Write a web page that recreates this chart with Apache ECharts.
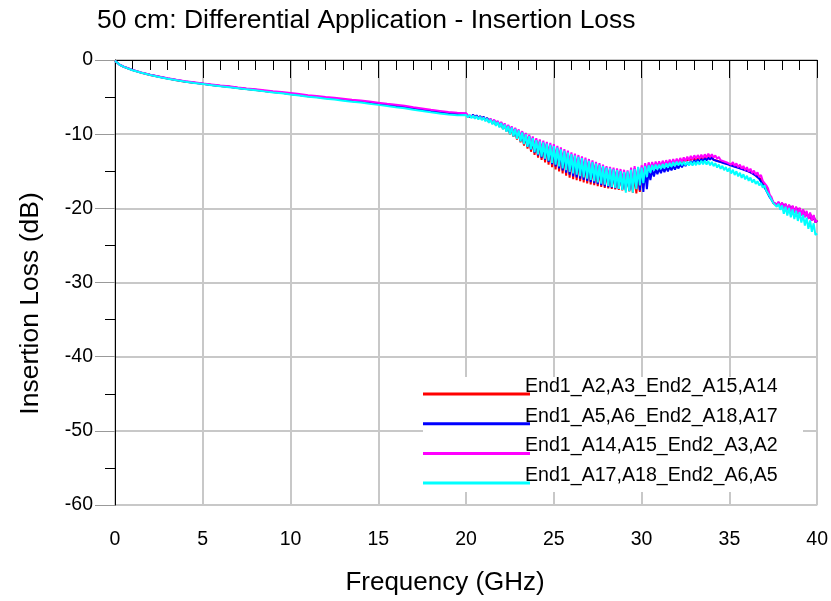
<!DOCTYPE html>
<html>
<head>
<meta charset="utf-8">
<script src="https://cdn.jsdelivr.net/npm/echarts@6/dist/echarts.min.js"></script>
<style>html,body{margin:0;padding:0;background:#fff}#c{width:831px;height:601px}</style>
</head>
<body>
<div id="c"></div>
<script>
const titleText = '50 cm: Differential Application - Insertion Loss';
const xName = 'Frequency (GHz)';
const yName = 'Insertion Loss (dB)';
const seriesNames = ['End1_A2,A3_End2_A15,A14','End1_A5,A6_End2_A18,A17','End1_A14,A15_End2_A3,A2','End1_A17,A18_End2_A6,A5'];
const seriesColors = ['#ff0000','#0000ff','#ff00ff','#00ffff'];

// frequency grid (GHz): coarse part 0..20, then 0.1 GHz sweep 20.1..40.0
const freqLow = [0,0.25,0.5,1,1.5,2,2.5,3,3.5,4,4.5,5,5.5,6,6.5,7,7.5,8,8.5,9,9.5,10,10.5,11,11.5,12,12.5,13,13.5,14,14.5,15,15.5,16,16.5,17,17.5,18,18.5,19,19.5,20];
const freqHigh = Array.from({length:200},(_,i)=>(201+i)/10);

const redLow = [-0.1,-0.62,-0.92,-1.36,-1.71,-2.01,-2.26,-2.51,-2.72,-2.92,-3.07,-3.22,-3.37,-3.52,-3.62,-3.77,-3.92,-4.03,-4.18,-4.33,-4.43,-4.58,-4.73,-4.88,-4.98,-5.13,-5.23,-5.38,-5.53,-5.63,-5.78,-5.93,-6.08,-6.23,-6.38,-6.58,-6.75,-6.93,-7.08,-7.22,-7.32,-7.3];
const redHigh = [
-7.6,-7.34,-7.7,-7.43,-7.8,-7.52,-7.9,-7.61,-8.0,-7.7,
-8.16,-7.86,-8.37,-8.02,-8.58,-8.18,-8.79,-8.34,-9.0,-8.5,
-9.28,-8.72,-9.64,-8.94,-10.0,-9.16,-10.36,-9.38,-10.72,-9.6,
-11.11,-9.86,-11.53,-10.12,-11.95,-10.38,-12.37,-10.64,-12.79,-10.9,
-13.16,-11.08,-13.48,-11.26,-13.8,-11.44,-14.12,-11.62,-14.44,-11.8,
-14.74,-12.02,-15.02,-12.24,-15.3,-12.46,-15.58,-12.68,-15.86,-12.9,
-16.07,-13.08,-16.21,-13.26,-16.35,-13.44,-16.49,-13.62,-16.63,-13.8,
-16.76,-13.96,-16.88,-14.12,-17.0,-14.28,-17.12,-14.44,-17.24,-14.6,
-17.33,-14.72,-17.39,-14.84,-17.45,-14.96,-17.51,-15.08,-17.57,-15.2,
-17.6,-15.4,-17.7,-15.5,-17.9,-15.6,-18.0,-15.5,-17.8,-15.0,
-16.0,-14.6,-15.3,-14.4,-14.9,-14.25,-14.7,-14.1,-14.55,-14.0,
-14.43,-13.95,-14.36,-13.9,-14.29,-13.85,-14.22,-13.8,-14.15,-13.75,
-14.05,-13.67,-13.95,-13.59,-13.85,-13.51,-13.75,-13.43,-13.65,-13.35,
-13.6,-13.3,-13.55,-13.25,-13.5,-13.2,-13.45,-13.1,-13.4,-13.1,
-13.46,-13.23,-13.59,-13.36,-13.72,-13.49,-13.85,-13.62,-13.98,-13.75,
-14.13,-13.92,-14.3,-14.09,-14.47,-14.26,-14.64,-14.43,-14.81,-14.6,
-15.0,-14.8,-15.2,-15.0,-15.5,-15.3,-15.85,-15.7,-16.4,-16.4,
-17.2,-17.6,-18.4,-18.7,-19.3,-19.1,-19.6,-19.25,-19.85,-19.3,
-20.06,-19.44,-20.22,-19.58,-20.38,-19.72,-20.54,-19.86,-20.7,-20.0,
-20.86,-20.26,-21.12,-20.52,-21.38,-20.78,-21.64,-21.04,-21.9,-21.6];

const blueLow = [-0.1,-0.61,-0.91,-1.35,-1.7,-2.0,-2.25,-2.5,-2.71,-2.91,-3.06,-3.21,-3.36,-3.51,-3.61,-3.76,-3.91,-4.02,-4.17,-4.32,-4.42,-4.57,-4.72,-4.87,-4.97,-5.12,-5.22,-5.37,-5.52,-5.62,-5.77,-5.92,-6.07,-6.22,-6.37,-6.57,-6.74,-6.92,-7.07,-7.2,-7.28,-7.25];
const blueHigh = [
-7.55,-7.29,-7.65,-7.38,-7.75,-7.47,-7.85,-7.56,-7.95,-7.65,
-8.1,-7.81,-8.3,-7.97,-8.5,-8.13,-8.7,-8.29,-8.9,-8.45,
-9.17,-8.66,-9.51,-8.87,-9.85,-9.08,-10.19,-9.29,-10.53,-9.5,
-10.9,-9.76,-11.3,-10.02,-11.7,-10.28,-12.1,-10.54,-12.5,-10.8,
-12.85,-10.98,-13.15,-11.16,-13.45,-11.34,-13.75,-11.52,-14.05,-11.7,
-14.34,-11.92,-14.62,-12.14,-14.9,-12.36,-15.18,-12.58,-15.46,-12.8,
-15.68,-12.98,-15.84,-13.16,-16.0,-13.34,-16.16,-13.52,-16.32,-13.7,
-16.47,-13.86,-16.61,-14.02,-16.75,-14.18,-16.89,-14.34,-17.03,-14.5,
-17.14,-14.62,-17.22,-14.74,-17.3,-14.86,-17.38,-14.98,-17.46,-15.1,
-17.5,-15.2,-17.6,-15.0,-17.5,-14.6,-17.2,-14.5,-17.6,-14.8,
-17.8,-14.9,-17.4,-14.9,-16.2,-14.8,-15.7,-14.7,-15.4,-14.6,
-15.25,-14.52,-15.13,-14.44,-15.01,-14.36,-14.89,-14.28,-14.77,-14.2,
-14.62,-14.06,-14.46,-13.92,-14.3,-13.78,-14.14,-13.64,-13.98,-13.5,
-13.85,-13.42,-13.75,-13.34,-13.65,-13.26,-13.55,-13.15,-13.45,-13.1,
-13.47,-13.25,-13.62,-13.4,-13.77,-13.55,-13.92,-13.7,-14.07,-13.85,
-14.23,-14.01,-14.39,-14.17,-14.55,-14.33,-14.71,-14.49,-14.87,-14.65,
-15.05,-14.85,-15.3,-15.1,-15.6,-15.4,-16.0,-15.9,-16.8,-16.9,
-17.6,-17.8,-18.5,-18.6,-19.2,-19.0,-19.5,-19.2,-19.75,-19.3,
-19.95,-19.45,-20.1,-19.6,-20.25,-19.75,-20.4,-19.9,-20.6,-20.05,
-20.8,-20.3,-21.05,-20.55,-21.3,-20.8,-21.55,-21.05,-21.85,-21.7];

const magentaLow = [-0.1,-0.6,-0.9,-1.33,-1.68,-1.98,-2.22,-2.47,-2.67,-2.86,-3.01,-3.16,-3.3,-3.45,-3.55,-3.7,-3.84,-3.94,-4.08,-4.22,-4.32,-4.46,-4.6,-4.74,-4.84,-4.98,-5.08,-5.22,-5.36,-5.46,-5.6,-5.75,-5.9,-6.04,-6.18,-6.38,-6.55,-6.72,-6.86,-7.0,-7.1,-7.18];
const magentaHigh = [
-7.47,-7.26,-7.56,-7.35,-7.66,-7.43,-7.76,-7.52,-7.85,-7.6,
-8.0,-7.75,-8.19,-7.9,-8.38,-8.05,-8.57,-8.2,-8.76,-8.35,
-8.99,-8.55,-9.27,-8.75,-9.55,-8.95,-9.83,-9.15,-10.11,-9.35,
-10.41,-9.59,-10.73,-9.83,-11.05,-10.07,-11.37,-10.31,-11.69,-10.55,
-11.97,-10.71,-12.21,-10.87,-12.45,-11.03,-12.69,-11.19,-12.93,-11.35,
-13.16,-11.57,-13.38,-11.79,-13.6,-12.01,-13.82,-12.23,-14.04,-12.45,
-14.24,-12.63,-14.42,-12.81,-14.6,-12.99,-14.78,-13.17,-14.96,-13.35,
-15.14,-13.54,-15.3,-13.73,-15.48,-13.92,-15.65,-14.11,-15.82,-14.3,
-15.95,-14.4,-16.05,-14.5,-16.15,-14.6,-16.25,-14.7,-16.35,-14.8,
-16.5,-14.9,-16.6,-14.5,-16.9,-14.3,-16.4,-14.6,-16.2,-14.2,
-15.4,-13.9,-15.0,-13.8,-14.7,-13.75,-14.55,-13.7,-14.4,-13.65,
-14.3,-13.58,-14.22,-13.51,-14.13,-13.44,-14.04,-13.37,-13.95,-13.3,
-13.85,-13.21,-13.74,-13.12,-13.63,-13.03,-13.52,-12.94,-13.41,-12.85,
-13.32,-12.82,-13.27,-12.78,-13.22,-12.72,-13.15,-12.62,-13.08,-12.7,
-13.15,-12.88,-13.33,-13.06,-13.5,-13.24,-13.68,-13.42,-13.86,-13.6,
-14.1,-13.77,-14.28,-13.94,-14.47,-14.11,-14.66,-14.28,-14.85,-14.45,
-15.05,-14.65,-15.25,-14.9,-15.5,-15.15,-15.8,-15.5,-16.3,-16.1,
-16.9,-17.3,-18.2,-18.5,-19.2,-19.0,-19.5,-19.1,-19.8,-19.2,
-20.1,-19.34,-20.27,-19.48,-20.45,-19.62,-20.63,-19.76,-20.81,-19.9,
-21.0,-20.12,-21.22,-20.34,-21.44,-20.56,-21.66,-20.9,-21.88,-21.6];

const cyanLow = [-0.1,-0.62,-0.93,-1.38,-1.73,-2.03,-2.28,-2.54,-2.74,-2.94,-3.1,-3.25,-3.4,-3.55,-3.66,-3.81,-3.96,-4.07,-4.23,-4.38,-4.49,-4.65,-4.8,-4.96,-5.06,-5.22,-5.33,-5.48,-5.64,-5.74,-5.9,-6.05,-6.2,-6.36,-6.51,-6.71,-6.88,-7.06,-7.21,-7.36,-7.44,-7.4];
const cyanHigh = [
-7.75,-7.39,-7.84,-7.48,-7.93,-7.57,-8.02,-7.66,-8.11,-7.75,
-8.26,-7.9,-8.47,-8.05,-8.68,-8.2,-8.89,-8.35,-9.1,-8.5,
-9.36,-8.7,-9.68,-8.9,-10.0,-9.1,-10.32,-9.3,-10.64,-9.5,
-10.98,-9.76,-11.34,-10.02,-11.7,-10.28,-12.06,-10.54,-12.42,-10.8,
-12.74,-10.96,-13.02,-11.12,-13.3,-11.28,-13.58,-11.44,-13.86,-11.6,
-14.12,-11.82,-14.36,-12.04,-14.6,-12.26,-14.84,-12.48,-15.08,-12.7,
-15.29,-12.88,-15.47,-13.06,-15.65,-13.24,-15.83,-13.42,-16.01,-13.6,
-16.18,-13.78,-16.34,-13.96,-16.5,-14.14,-16.66,-14.32,-16.82,-14.5,
-16.97,-14.62,-17.11,-14.74,-17.25,-14.86,-17.39,-14.98,-17.53,-15.1,
-17.9,-15.0,-17.7,-14.8,-17.9,-14.7,-17.4,-14.4,-16.9,-14.5,
-16.6,-14.3,-15.8,-14.2,-15.2,-14.15,-14.9,-14.1,-14.75,-14.1,
-14.7,-14.02,-14.6,-13.94,-14.5,-13.86,-14.4,-13.78,-14.3,-13.7,
-14.2,-13.7,-14.2,-13.7,-14.2,-13.72,-14.22,-13.72,-14.22,-13.72,
-14.18,-13.65,-14.12,-13.58,-14.08,-13.55,-14.1,-13.62,-14.2,-13.75,
-14.32,-13.92,-14.5,-14.09,-14.68,-14.26,-14.86,-14.43,-15.04,-14.6,
-15.3,-14.8,-15.5,-15.0,-15.7,-15.2,-15.9,-15.4,-16.1,-15.6,
-16.3,-15.85,-16.5,-16.1,-16.7,-16.35,-16.9,-16.6,-17.2,-16.9,
-17.6,-17.7,-18.4,-18.6,-19.3,-19.2,-19.8,-19.4,-20.2,-19.6,
-20.74,-19.78,-20.98,-19.96,-21.22,-20.14,-21.46,-20.32,-21.7,-20.5,
-21.91,-20.88,-22.33,-21.26,-22.75,-21.64,-23.17,-22.02,-23.59,-23.4];

const xTicks = {min:0, max:40, step:5};
const yTicks = {min:-60, max:0, step:10};

const seriesValues = [[redLow,redHigh],[blueLow,blueHigh],[magentaLow,magentaHigh],[cyanLow,cyanHigh]];
function toPairs(lo, hi){
  return freqLow.map((f,i)=>[f,lo[i]]).concat(freqHigh.map((f,i)=>[f,hi[i]]));
}

const FONT = 'Liberation Sans, Arial, sans-serif';
const chart = echarts.init(document.getElementById('c'), null, {renderer:'canvas'});

const legendGraphics = [{
  type:'rect', shape:{x:423,y:377,width:380,height:115}, style:{fill:'#fff'}, z:50, silent:true
}];
seriesNames.forEach((n,i)=>{
  const ly = 394 + i*29.7;
  legendGraphics.push({type:'line', shape:{x1:423,y1:ly,x2:530,y2:ly}, style:{stroke:seriesColors[i], lineWidth:3}, z:51});
  legendGraphics.push({type:'text', x:525, y:ly-7.5, style:{text:n, fill:'#000', font:'19.6px '+FONT, textVerticalAlign:'middle', textAlign:'left'}, z:52});
});

chart.setOption({
  animation:false,
  backgroundColor:'#fff',
  title:{text:titleText, left:97, top:7, padding:0, textStyle:{fontFamily:FONT, fontSize:26.5, fontWeight:'normal', color:'#000'}},
  grid:{left:115, right:13, top:60, bottom:96, show:true, borderColor:'#444', borderWidth:1},
  xAxis:{type:'value', min:xTicks.min, max:xTicks.max, interval:xTicks.step,
    name:xName, nameLocation:'middle', nameGap:65, nameTextStyle:{fontFamily:FONT, fontSize:26, color:'#000', padding:[0,42,0,0]},
    axisLine:{show:true, lineStyle:{color:'#000', width:1}},
    axisTick:{show:true, length:18, lineStyle:{color:'#000'}},
    minorTick:{show:true, splitNumber:5, length:10, lineStyle:{color:'#000'}},
    splitLine:{show:true, lineStyle:{color:'#c8c8c8', width:2}},
    axisLabel:{fontFamily:FONT, fontSize:19.5, color:'#000', margin:25}},
  yAxis:{type:'value', min:yTicks.min, max:yTicks.max, interval:yTicks.step,
    name:yName, nameLocation:'middle', nameGap:71, nameTextStyle:{fontFamily:FONT, fontSize:26.5, color:'#000', padding:[0,42,0,0]},
    axisLine:{show:true, lineStyle:{color:'#000', width:1}},
    axisTick:{show:true, length:20, lineStyle:{color:'#999'}},
    minorTick:{show:true, splitNumber:2, length:10, lineStyle:{color:'#000'}},
    splitLine:{show:true, lineStyle:{color:'#c8c8c8', width:2}},
    axisLabel:{fontFamily:FONT, fontSize:19.5, color:'#000', margin:22}},
  series: seriesNames.map((n,i)=>({
    name:n, type:'line', showSymbol:false, symbol:'none', smooth:false,
    data: toPairs(seriesValues[i][0], seriesValues[i][1]),
    lineStyle:{color:seriesColors[i], width:2}, itemStyle:{color:seriesColors[i]}, z:3+i
  })),
  graphic: legendGraphics
});
</script>
</body>
</html>
